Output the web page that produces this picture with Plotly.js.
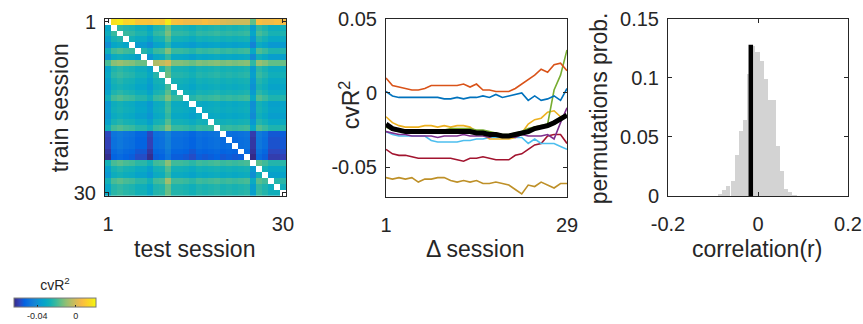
<!DOCTYPE html>
<html>
<head>
<meta charset="utf-8">
<script src="https://cdn.plot.ly/plotly-3.0.1.min.js"></script>
<style>html,body{margin:0;padding:0;background:#fff;}#chart{width:863px;height:324px;}</style>
</head>
<body>
<div id="chart"></div>
<script>
// ---------- DATA ----------
// Panel 1: cvR^2 (x 1e-3), rows = train session 1..30, columns = test session 1..30 (diagonal empty)
const trainSession = [1,2,3,4,5,6,7,8,9,10,11,12,13,14,15,16,17,18,19,20,21,22,23,24,25,26,27,28,29,30];
const testSession  = [1,2,3,4,5,6,7,8,9,10,11,12,13,14,15,16,17,18,19,20,21,22,23,24,25,26,27,28,29,30];
const cvR2Milli = [
 [null,16,18,13,14,9,9,8,10,9,18,8,7,5,5,5,7,5,4,1,0,-1,-1,-1,-16,7,5,5,7,5],
 [-32,null,-22,-24,-25,-28,-28,-32,-25,-24,-16,-25,-25,-26,-28,-25,-26,-25,-24,-26,-25,-26,-25,-24,-35,-22,-25,-29,-29,-28],
 [-29,-21,null,-21,-22,-25,-25,-29,-22,-21,-13,-22,-22,-23,-25,-22,-23,-22,-21,-23,-22,-23,-22,-21,-32,-19,-22,-26,-26,-25],
 [-34,-26,-24,null,-27,-30,-30,-34,-27,-26,-18,-27,-27,-28,-30,-27,-28,-27,-26,-28,-27,-28,-27,-26,-37,-24,-27,-31,-31,-30],
 [-40,-32,-30,-32,null,-36,-36,-40,-33,-32,-24,-33,-33,-34,-36,-33,-34,-33,-32,-34,-33,-34,-33,-32,-43,-30,-33,-37,-37,-36],
 [-28,-20,-18,-20,-21,null,-24,-28,-21,-20,-12,-21,-21,-22,-24,-21,-22,-21,-20,-22,-21,-22,-21,-20,-31,-18,-21,-25,-25,-24],
 [-38,-30,-28,-30,-31,-34,null,-38,-31,-30,-22,-31,-31,-32,-34,-31,-32,-31,-30,-32,-31,-32,-31,-30,-41,-28,-31,-35,-35,-34],
 [-19,-11,-9,-11,-12,-15,-15,null,-6,-4,0,-12,-12,-13,-15,-12,-13,-12,-11,-13,-12,-13,-12,-11,-22,-9,-12,-16,-16,-15],
 [-33,-25,-23,-25,-26,-29,-29,-33,null,-25,-17,-26,-26,-27,-29,-26,-27,-26,-25,-27,-26,-27,-26,-25,-36,-23,-26,-30,-30,-29],
 [-31,-23,-21,-23,-24,-27,-27,-31,-24,null,-15,-24,-24,-25,-27,-24,-25,-24,-23,-25,-24,-25,-24,-23,-34,-21,-24,-28,-28,-27],
 [-34,-26,-24,-26,-27,-30,-30,-34,-27,-26,null,-27,-27,-28,-30,-27,-28,-27,-26,-28,-27,-28,-27,-26,-37,-24,-27,-31,-31,-30],
 [-36,-28,-26,-28,-29,-32,-32,-36,-29,-28,-20,null,-29,-30,-32,-29,-30,-29,-28,-30,-29,-30,-29,-28,-39,-26,-29,-33,-33,-32],
 [-33,-25,-23,-25,-26,-29,-29,-33,-26,-25,-17,-26,null,-27,-29,-26,-27,-26,-25,-27,-26,-27,-26,-25,-36,-23,-26,-30,-30,-29],
 [-28,-20,-18,-20,-21,-24,-24,-28,-21,-20,-12,-21,-21,null,-24,-21,-22,-21,-20,-22,-21,-22,-21,-20,-31,-18,-21,-25,-25,-24],
 [-37,-29,-27,-29,-30,-33,-33,-37,-30,-29,-21,-30,-30,-31,null,-30,-31,-30,-29,-31,-30,-31,-30,-29,-40,-27,-30,-34,-34,-33],
 [-36,-28,-26,-28,-29,-32,-32,-36,-29,-28,-20,-29,-29,-30,-32,null,-30,-29,-28,-30,-29,-30,-29,-28,-39,-26,-29,-33,-33,-32],
 [-38,-30,-28,-30,-31,-34,-34,-38,-31,-30,-22,-31,-31,-32,-34,-31,null,-31,-30,-32,-31,-32,-31,-30,-41,-28,-31,-35,-35,-34],
 [-34,-26,-24,-26,-27,-30,-30,-34,-27,-26,-18,-27,-27,-28,-30,-27,-28,null,-26,-28,-27,-28,-27,-26,-37,-24,-27,-31,-31,-30],
 [-28,-20,-18,-20,-21,-24,-24,-28,-21,-20,-12,-21,-21,-22,-24,-21,-22,-21,null,-22,-21,-22,-21,-20,-31,-18,-21,-25,-25,-24],
 [-58,-48,-46,-48,-49,-52,-52,-58,-49,-48,-43,-49,-49,-50,-52,-49,-50,-49,-48,null,-49,-50,-49,-48,-60,-46,-49,-55,-55,-54],
 [-59,-49,-47,-49,-50,-53,-53,-59,-50,-49,-44,-50,-50,-51,-53,-50,-51,-50,-49,-51,null,-51,-50,-49,-61,-47,-50,-56,-56,-55],
 [-59,-49,-47,-49,-50,-53,-53,-59,-50,-49,-44,-50,-50,-51,-53,-50,-51,-50,-49,-51,-50,null,-50,-49,-61,-47,-50,-56,-56,-55],
 [-61,-51,-49,-51,-52,-55,-55,-61,-52,-51,-46,-52,-52,-53,-55,-52,-53,-52,-51,-53,-52,-53,null,-51,-62,-49,-52,-58,-58,-57],
 [-63,-53,-51,-53,-54,-57,-57,-63,-54,-53,-48,-54,-54,-55,-57,-54,-55,-54,-53,-55,-54,-55,-54,null,-64,-51,-54,-60,-60,-59],
 [-27,-19,-17,-19,-20,-23,-23,-27,-20,-19,-11,-20,-20,-21,-23,-20,-21,-20,-19,-21,-20,-21,-20,-19,null,-17,-20,-24,-24,-23],
 [-34,-26,-24,-26,-27,-30,-30,-34,-27,-26,-18,-27,-27,-28,-30,-27,-28,-27,-26,-28,-27,-28,-27,-26,-37,null,-27,-31,-31,-30],
 [-37,-29,-27,-29,-30,-33,-33,-37,-30,-29,-21,-30,-30,-31,-33,-30,-31,-30,-29,-31,-30,-31,-30,-29,-40,-27,null,-34,-34,-33],
 [-27,-19,-17,-19,-20,-23,-23,-27,-20,-19,-8,-20,-20,-21,-23,-20,-21,-20,-19,-21,-20,-21,-20,-19,-30,-17,-20,null,-24,-23],
 [-32,-24,-22,-24,-25,-28,-28,-32,-25,-24,-16,-25,-25,-26,-28,-25,-26,-25,-24,-26,-25,-26,-25,-24,-35,-22,-25,-29,null,-28],
 [-31,-23,-21,-23,-24,-27,-27,-31,-24,-23,-15,-24,-24,-25,-27,-24,-25,-24,-23,-25,-24,-25,-24,-23,-34,-21,-24,-28,-28,null]
];

// Panel 2: cvR^2 vs delta session
const deltaSession = [1,2,3,4,5,6,7,8,9,10,11,12,13,14,15,16,17,18,19,20,21,22,23,24,25,26,27,28,29];
const lineOrange = [0.010,0.005,0.004,0.003,0.002,0.002,0.003,0.005,0.005,0.005,0.005,0.005,0.006,0.004,0.006,0.002,0.002,0.001,0.001,0.001,0.003,0.006,0.009,0.012,0.016,0.014,0.019,0.020,0.015];
const lineBlue = [0.001,-0.002,-0.003,-0.003,-0.003,-0.003,-0.003,-0.003,-0.003,-0.004,-0.004,-0.003,-0.004,-0.003,-0.003,-0.002,-0.003,-0.001,-0.003,-0.002,-0.001,0.000,-0.005,-0.002,-0.005,-0.004,-0.002,-0.005,0.003];
const lineYellow = [-0.016,-0.020,-0.022,-0.023,-0.023,-0.023,-0.022,-0.022,-0.023,-0.022,-0.023,-0.022,-0.022,-0.023,-0.026,-0.028,-0.031,-0.031,-0.031,-0.031,-0.030,-0.027,-0.021,-0.018,-0.017,-0.013,-0.012,-0.016,-0.016];
const lineGreen = [-0.023,-0.025,-0.026,-0.026,-0.026,-0.026,-0.025,-0.025,-0.025,-0.025,-0.024,-0.024,-0.024,-0.024,-0.025,-0.025,-0.026,-0.027,-0.028,-0.028,-0.027,-0.026,-0.024,-0.023,-0.022,-0.021,0.002,0.012,0.029];
const linePurple = [-0.026,-0.027,-0.028,-0.028,-0.029,-0.029,-0.029,-0.029,-0.030,-0.029,-0.029,-0.029,-0.028,-0.029,-0.029,-0.029,-0.030,-0.028,-0.029,-0.029,-0.030,-0.028,-0.029,-0.029,-0.029,-0.028,-0.031,-0.020,-0.010];
const lineLightBlue = [-0.026,-0.028,-0.029,-0.029,-0.029,-0.029,-0.029,-0.032,-0.033,-0.033,-0.033,-0.033,-0.032,-0.032,-0.031,-0.031,-0.030,-0.030,-0.030,-0.030,-0.030,-0.030,-0.034,-0.031,-0.034,-0.034,-0.034,-0.036,-0.038];
const lineDarkRed = [-0.038,-0.041,-0.042,-0.042,-0.043,-0.044,-0.044,-0.044,-0.044,-0.044,-0.044,-0.045,-0.046,-0.044,-0.044,-0.043,-0.044,-0.045,-0.045,-0.045,-0.042,-0.041,-0.038,-0.035,-0.034,-0.029,-0.028,-0.028,-0.034];
const lineBrown = [-0.057,-0.058,-0.057,-0.058,-0.057,-0.060,-0.058,-0.058,-0.057,-0.057,-0.059,-0.060,-0.059,-0.060,-0.059,-0.061,-0.061,-0.060,-0.061,-0.062,-0.065,-0.068,-0.062,-0.063,-0.060,-0.062,-0.064,-0.061,-0.061];
const lineMean = [-0.021,-0.024,-0.025,-0.026,-0.026,-0.026,-0.026,-0.026,-0.026,-0.026,-0.026,-0.026,-0.026,-0.026,-0.027,-0.027,-0.028,-0.028,-0.029,-0.029,-0.028,-0.027,-0.026,-0.024,-0.023,-0.022,-0.020,-0.017,-0.015];

// Panel 3: permutation histogram
const binCenters = [-0.084,-0.075,-0.066,-0.056,-0.047,-0.038,-0.029,-0.020,-0.011,-0.001,0.008,0.017,0.026,0.036,0.045,0.054,0.063,0.072,0.081];
const binProb = [0.002,0.005,0.008,0.013,0.035,0.055,0.064,0.103,0.127,0.122,0.114,0.099,0.081,0.081,0.042,0.021,0.006,0.003,0.001];
const binWidth = 0.0092;
const observedCorr = [-0.016, -0.016];
const observedBar = [0, 0.128];

// ---------- BUILD ----------
const z = cvR2Milli.map(r => r.map(v => v === null ? null : v / 1000));
const parula = [
 [0,'rgb(53,42,135)'],[0.0635,'rgb(50,67,186)'],[0.127,'rgb(3,99,225)'],[0.19,'rgb(13,117,220)'],
 [0.254,'rgb(20,133,212)'],[0.317,'rgb(9,152,209)'],[0.381,'rgb(6,167,198)'],[0.444,'rgb(21,177,180)'],
 [0.508,'rgb(56,185,158)'],[0.571,'rgb(101,190,134)'],[0.635,'rgb(146,191,115)'],[0.698,'rgb(183,189,100)'],
 [0.762,'rgb(217,186,86)'],[0.825,'rgb(248,187,68)'],[0.889,'rgb(252,206,46)'],[0.952,'rgb(245,228,29)'],[1,'rgb(249,251,14)']
];
const FONT = 'Liberation Sans, Arial, Helvetica, sans-serif';
const AX = 'rgb(38,38,38)';

const traces = [];
traces.push({
  type:'heatmap', x:testSession, y:trainSession, z:z, xaxis:'x', yaxis:'y',
  colorscale:parula, zmin:-0.064, zmax:0.021, hoverongaps:false,
  colorbar:{orientation:'h', x:55/863, xanchor:'center', y:1-307/324, yanchor:'middle',
    len:82/863, lenmode:'fraction', thickness:9, outlinewidth:1, outlinecolor:'rgb(120,120,120)',
    tickvals:[-0.04,0], ticktext:['-0.04','0'], ticks:'inside', ticklen:2, tickcolor:AX,
    tickfont:{size:9, family:FONT, color:AX}, xpad:0, ypad:0,
    title:{text:'cvR<sup>2</sup>', side:'top', font:{size:14, family:FONT, color:AX}}}
});
const lineSpec = [
  [lineBrown,'rgb(190,144,40)'],[lineDarkRed,'rgb(162,20,47)'],[lineLightBlue,'rgb(77,190,238)'],
  [lineYellow,'rgb(237,177,32)'],[linePurple,'rgb(126,47,142)'],[lineGreen,'rgb(119,172,48)'],
  [lineBlue,'rgb(0,114,189)'],[lineOrange,'rgb(217,83,25)']
];
lineSpec.forEach(([ys,c]) => traces.push({type:'scatter', mode:'lines', x:deltaSession, y:ys,
  xaxis:'x2', yaxis:'y2', line:{color:c, width:1.6}, showlegend:false}));
traces.push({type:'scatter', mode:'lines', x:deltaSession, y:lineMean, xaxis:'x2', yaxis:'y2',
  line:{color:'black', width:5}, showlegend:false});
traces.push({type:'bar', x:binCenters, y:binProb, width:binWidth, xaxis:'x3', yaxis:'y3',
  marker:{color:'rgb(211,211,211)', line:{width:0}}, showlegend:false});
traces.push({type:'scatter', mode:'lines', x:observedCorr, y:observedBar, xaxis:'x3', yaxis:'y3',
  line:{color:'black', width:4.5}, showlegend:false});

const base = {showline:true, mirror:'ticks', linecolor:AX, linewidth:1, ticks:'inside', ticklen:4,
  tickcolor:AX, tickfont:{size:20, family:FONT, color:AX}, zeroline:false, showgrid:false, fixedrange:true};
const xb = Object.assign({}, base, {ticklabelstandoff:10});
const yb = Object.assign({}, base, {ticklabelstandoff:4});
const ty = v => 1 - v/324, tx = v => v/863;

const layout = {
  width:863, height:324, margin:{l:0,r:0,t:0,b:0}, paper_bgcolor:'white', plot_bgcolor:'white',
  showlegend:false, bargap:0, font:{family:FONT, color:AX},
  xaxis: Object.assign({}, xb, {domain:[tx(105),tx(286)], range:[0.5,30.5], tickvals:[1,30], ticktext:['1','30'], anchor:'y'}),
  yaxis: Object.assign({}, yb, {domain:[ty(199),ty(19)], range:[30.5,0.5], tickvals:[1,30], ticktext:['1','30'], anchor:'x'}),
  xaxis2: Object.assign({}, xb, {domain:[tx(386),tx(567)], range:[1,29], tickvals:[1,29], ticktext:['1','29'], anchor:'y2'}),
  yaxis2: Object.assign({}, yb, {domain:[ty(200),ty(19)], range:[-0.07,0.05], tickvals:[-0.05,0,0.05], ticktext:['-0.05','0','0.05'], anchor:'x2'}),
  xaxis3: Object.assign({}, xb, {domain:[tx(668),tx(848)], range:[-0.2,0.2], tickvals:[-0.2,0,0.2], ticktext:['-0.2','0','0.2'], anchor:'y3'}),
  yaxis3: Object.assign({}, yb, {domain:[ty(199),ty(19)], range:[0,0.15], tickvals:[0,0.05,0.1,0.15], ticktext:['0','0.05','0.1','0.15'], anchor:'x3'}),
  annotations:[
    {text:'train session', x:tx(60), y:ty(110), textangle:-90},
    {text:'test session', x:tx(194), y:ty(253)},
    {text:'cvR<sup>2</sup>', x:tx(350), y:ty(107), textangle:-90},
    {text:'\u0394 session', x:tx(475), y:ty(253)},
    {text:'permutations prob.', x:tx(599), y:ty(110), textangle:-90},
    {text:'correlation(r)', x:tx(757), y:ty(253)}
  ].map(a => Object.assign({xref:'paper', yref:'paper', showarrow:false, xanchor:'center', yanchor:'middle',
    font:{size:23, family:FONT, color:AX}}, a))
};
Plotly.newPlot('chart', traces, layout, {staticPlot:true, displayModeBar:false});
</script>
</body>
</html>
